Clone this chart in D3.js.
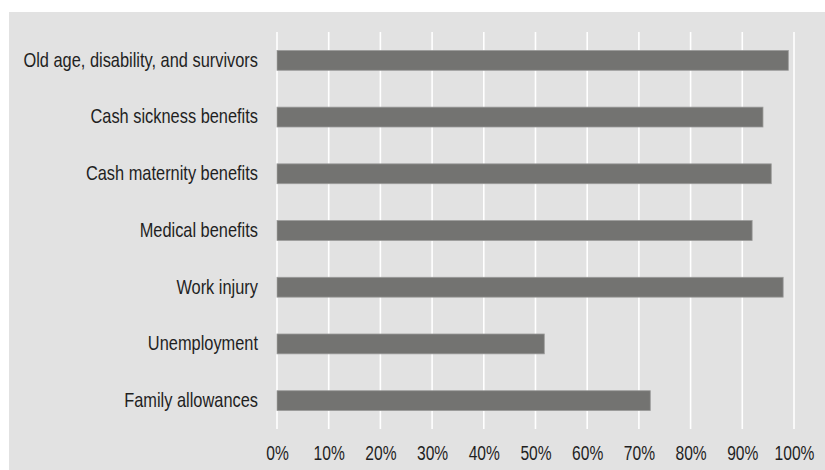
<!DOCTYPE html>
<html>
<head>
<meta charset="utf-8">
<script src="https://cdn.jsdelivr.net/npm/d3@7"></script>
<style>
  html, body { margin: 0; padding: 0; background: #ffffff; }
  svg { display: block; }
  text { font-family: "Liberation Sans", Arial, sans-serif; fill: #1f1f1f; }
</style>
</head>
<body>
<svg id="chart" width="825" height="470"></svg>
<script>
const categories = [
  "Old age, disability, and survivors",
  "Cash sickness benefits",
  "Cash maternity benefits",
  "Medical benefits",
  "Work injury",
  "Unemployment",
  "Family allowances"
];
const values = [98.9, 94.0, 95.6, 91.9, 97.9, 51.7, 72.2];
const tickValues = [0, 10, 20, 30, 40, 50, 60, 70, 80, 90, 100];
const tickLabels = ["0%", "10%", "20%", "30%", "40%", "50%", "60%", "70%", "80%", "90%", "100%"];

const svg = d3.select("#chart");
const W = 825, H = 470;

svg.append("rect")
  .attr("x", 9).attr("y", 12)
  .attr("width", W - 9).attr("height", H - 12)
  .attr("fill", "#e2e2e2");

const x = d3.scaleLinear().domain([0, 100]).range([277, 794]);
const y = d3.scaleBand().domain(categories).range([32, 429])
  .paddingInner(0.65).paddingOuter(0.325);

// gridlines
svg.append("g").selectAll("line")
  .data(tickValues)
  .join("line")
  .attr("x1", d => x(d)).attr("x2", d => x(d))
  .attr("y1", 32).attr("y2", 429)
  .attr("stroke", "#ffffff")
  .attr("stroke-width", 1.6);

// bars
svg.append("g").selectAll("rect")
  .data(values)
  .join("rect")
  .attr("x", x(0))
  .attr("y", (d, i) => y(categories[i]))
  .attr("width", d => x(d) - x(0))
  .attr("height", y.bandwidth())
  .attr("fill", "#737371")
  .attr("stroke", "#9b9b9a")
  .attr("stroke-width", 0.8);

// y axis labels (condensed look)
const sy = 0.82;
const yAxis = d3.axisLeft(y).tickSize(0).tickPadding(0);
const gy = svg.append("g").attr("transform", `translate(${x(0)},0)`).call(yAxis);
gy.select(".domain").remove();
gy.selectAll("text")
  .attr("x", -19 / sy)
  .attr("transform", `scale(${sy},1)`)
  .attr("font-size", "20px")
  .attr("fill", "#1f1f1f")
  .style("font-family", '"Liberation Sans", Arial, sans-serif');

// x axis labels
const sx = 0.8;
const xAxis = d3.axisBottom(x).tickValues(tickValues)
  .tickFormat((d, i) => tickLabels[i]).tickSize(0).tickPadding(17);
const gx = svg.append("g").attr("transform", `translate(0,429)`).call(xAxis);
gx.select(".domain").remove();
gx.selectAll("text")
  .attr("transform", `scale(${sx},1)`)
  .attr("font-size", "19.5px")
  .attr("fill", "#1f1f1f")
  .style("font-family", '"Liberation Sans", Arial, sans-serif');
</script>
</body>
</html>
